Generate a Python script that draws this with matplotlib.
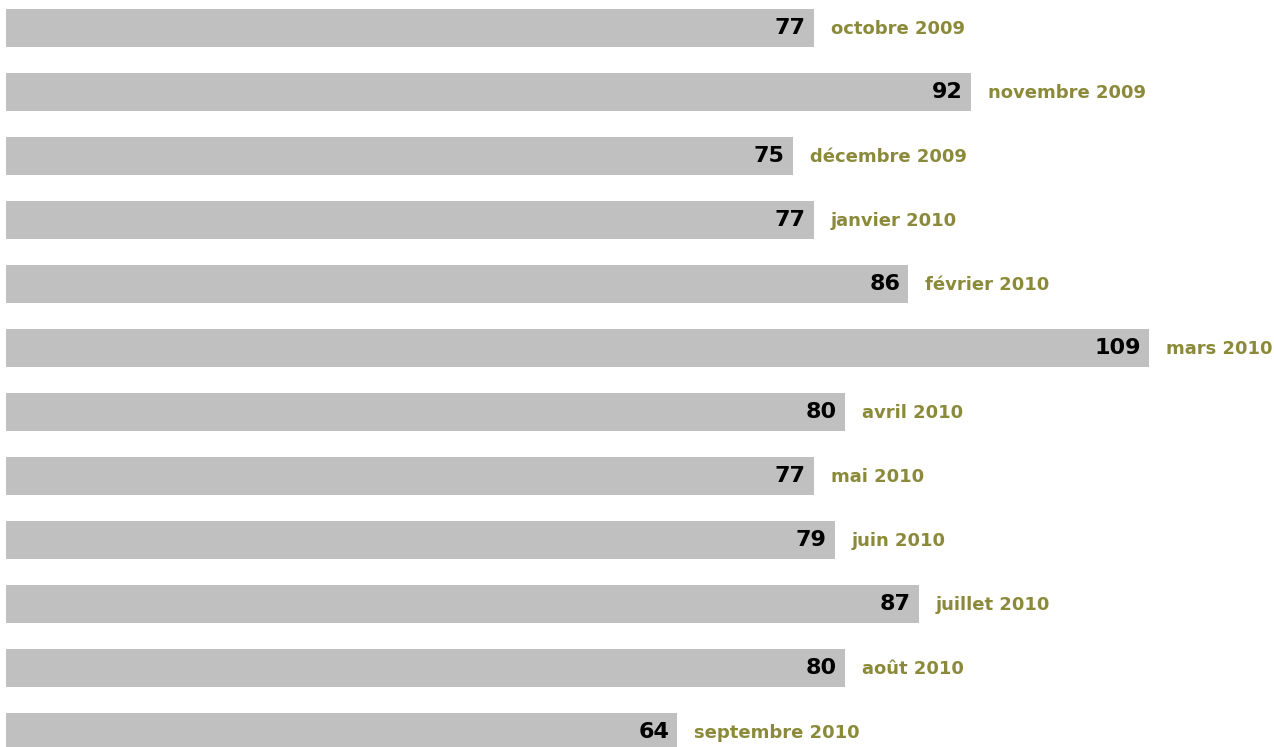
import matplotlib
matplotlib.use("Agg")
import matplotlib.pyplot as plt

months = ["octobre 2009", "novembre 2009", "décembre 2009", "janvier 2010",
          "février 2010", "mars 2010", "avril 2010", "mai 2010", "juin 2010",
          "juillet 2010", "août 2010", "septembre 2010"]
values = [77, 92, 75, 77, 86, 109, 80, 77, 79, 87, 80, 64]

px = 10.49  # pixels per unit
fig = plt.figure(figsize=(12.74, 7.47), dpi=100)
ax = fig.add_axes([0, 0, 1, 1])
ypos = list(range(len(values)))
ax.barh(ypos, values, height=0.594, color="#c0c0c0")
for y, v, m in zip(ypos, values, months):
    ax.text(v - 8 / px, y, str(v), ha="right", va="center",
            fontsize=16, fontweight="bold", color="black", family="DejaVu Sans")
    ax.text(v + 17 / px, y + 0.02, m, ha="left", va="center",
            fontsize=13, fontweight="bold", color="#8a8a3a", family="DejaVu Sans")
ax.set_xlim(-6 / px, (1274 - 6) / px)
ax.set_ylim((747 - 28) / 64, -28 / 64)
ax.axis("off")
fig.savefig("out.png", dpi=100)
